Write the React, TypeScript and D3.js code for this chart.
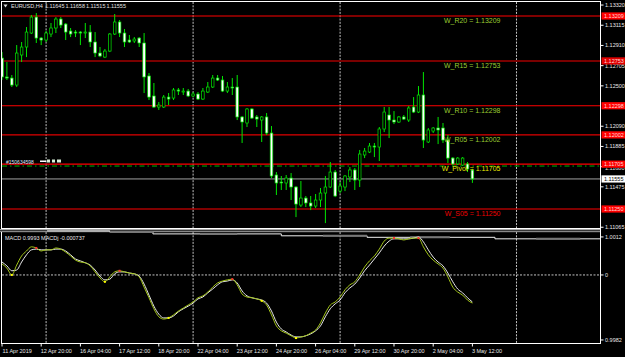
import React from "react";
import * as d3 from "d3";

// ---------- DATA ----------
const symbol = "EURUSD,H4";
const opens = [1.12782,1.12590,1.12579,1.12508,1.12813,1.12894,1.13036,1.13198,1.12985,1.12965,1.13026,1.13087,1.13178,1.13127,1.13056,1.13046,1.13046,1.13036,1.13046,1.12945,1.12833,1.12792,1.12853,1.13026,1.13148,1.13036,1.12965,1.12955,1.12985,1.12935,1.12600,1.12397,1.12285,1.12285,1.12386,1.12376,1.12458,1.12437,1.12447,1.12397,1.12417,1.12366,1.12437,1.12488,1.12579,1.12559,1.12447,1.12488,1.12488,1.12184,1.12123,1.12265,1.12184,1.12153,1.12184,1.12021,1.11595,1.11524,1.11514,1.11564,1.11473,1.11290,1.11361,1.11311,1.11280,1.11341,1.11412,1.11473,1.11625,1.11432,1.11473,1.11575,1.11646,1.11544,1.11798,1.11828,1.11889,1.11879,1.12062,1.12204,1.12153,1.12133,1.12184,1.12153,1.12285,1.12234,1.12407,1.11930,1.12041,1.12072,1.12072,1.11950,1.11767,1.11707,1.11696,1.11707,1.11645];
const highs = [1.12843,1.12742,1.12610,1.12914,1.12945,1.13097,1.13219,1.13239,1.12995,1.13056,1.13138,1.13198,1.13198,1.13138,1.13087,1.13066,1.13056,1.13138,1.13117,1.13046,1.12894,1.12874,1.13036,1.13229,1.13168,1.13077,1.13016,1.12995,1.12995,1.13036,1.12630,1.12529,1.12336,1.12407,1.12427,1.12478,1.12478,1.12478,1.12468,1.12437,1.12437,1.12478,1.12539,1.12610,1.12610,1.12600,1.12539,1.12579,1.12610,1.12194,1.12275,1.12275,1.12204,1.12194,1.12224,1.12092,1.11625,1.11585,1.11595,1.11615,1.11483,1.11534,1.11382,1.11382,1.11402,1.11463,1.11585,1.11727,1.11646,1.11524,1.11595,1.11676,1.11666,1.11849,1.11869,1.11920,1.11920,1.12082,1.12285,1.12285,1.12244,1.12194,1.12204,1.12295,1.12386,1.12498,1.12640,1.12072,1.12082,1.12184,1.12123,1.12001,1.11777,1.11777,1.11777,1.11727,1.11658];
const lows = [1.12559,1.12559,1.12488,1.12488,1.12742,1.12792,1.13026,1.12935,1.12914,1.12945,1.12995,1.13036,1.13087,1.12965,1.12995,1.12995,1.12914,1.12985,1.12894,1.12792,1.12792,1.12782,1.12843,1.13016,1.12995,1.12894,1.12935,1.12935,1.12894,1.12427,1.12356,1.12275,1.12255,1.12275,1.12305,1.12356,1.12407,1.12407,1.12386,1.12386,1.12356,1.12356,1.12427,1.12478,1.12549,1.12437,1.12427,1.12407,1.12153,1.11920,1.12082,1.12163,1.12082,1.11930,1.12001,1.11564,1.11392,1.11443,1.11443,1.11341,1.11168,1.11270,1.11270,1.11239,1.11260,1.11270,1.11107,1.11463,1.11371,1.11412,1.11432,1.11524,1.11443,1.11473,1.11767,1.11818,1.11777,1.11737,1.12031,1.11970,1.12112,1.12123,1.12153,1.12133,1.12224,1.12224,1.11869,1.11920,1.12021,1.11909,1.11920,1.11717,1.11696,1.11696,1.11686,1.11625,1.11515];
const closes = [1.12590,1.12579,1.12508,1.12833,1.12894,1.13046,1.13198,1.12985,1.12965,1.13036,1.13087,1.13178,1.13117,1.13046,1.13026,1.13036,1.13036,1.13046,1.12945,1.12833,1.12803,1.12853,1.13026,1.13148,1.13036,1.12945,1.12945,1.12975,1.12935,1.12590,1.12386,1.12285,1.12305,1.12386,1.12366,1.12458,1.12447,1.12447,1.12397,1.12417,1.12366,1.12447,1.12488,1.12579,1.12559,1.12447,1.12488,1.12478,1.12184,1.12133,1.12265,1.12173,1.12163,1.12184,1.12021,1.11585,1.11514,1.11514,1.11564,1.11473,1.11300,1.11361,1.11311,1.11280,1.11341,1.11412,1.11473,1.11625,1.11382,1.11483,1.11585,1.11646,1.11544,1.11808,1.11838,1.11889,1.11879,1.12062,1.12234,1.12153,1.12133,1.12184,1.12163,1.12275,1.12234,1.12407,1.11950,1.12052,1.12072,1.12052,1.11950,1.11767,1.11707,1.11767,1.11767,1.11656,1.11555];

const macdWhite = [0.00034,0.00024,0.00011,0.00013,0.00034,0.00053,0.00066,0.00068,0.00066,0.00066,0.00066,0.00068,0.00068,0.00063,0.00053,0.00042,0.00037,0.00032,0.00026,0.00013,-0.00003,-0.00013,-0.00011,0.00003,0.00008,0.00008,0.00005,0.00003,-0.00003,-0.00024,-0.00053,-0.00082,-0.00103,-0.00113,-0.00113,-0.00108,-0.00097,-0.00089,-0.00082,-0.00074,-0.00063,-0.00058,-0.00047,-0.00037,-0.00026,-0.00018,-0.00016,-0.00013,-0.00021,-0.00042,-0.00055,-0.00060,-0.00063,-0.00066,-0.00074,-0.00095,-0.00124,-0.00142,-0.00150,-0.00158,-0.00163,-0.00163,-0.00160,-0.00155,-0.00147,-0.00134,-0.00110,-0.00089,-0.00076,-0.00066,-0.00047,-0.00034,-0.00024,-0.00008,0.00011,0.00026,0.00042,0.00058,0.00076,0.00089,0.00095,0.00095,0.00095,0.00095,0.00097,0.00100,0.00087,0.00066,0.00047,0.00034,0.00024,0.00005,-0.00018,-0.00037,-0.00047,-0.00060,-0.00071];
const macdGreen = [0.00029,0.00018,0.00000,0.00026,0.00050,0.00063,0.00074,0.00071,0.00063,0.00066,0.00066,0.00071,0.00068,0.00060,0.00050,0.00039,0.00034,0.00032,0.00024,0.00008,-0.00008,-0.00018,-0.00005,0.00008,0.00011,0.00008,0.00005,0.00003,-0.00005,-0.00032,-0.00060,-0.00089,-0.00110,-0.00116,-0.00113,-0.00105,-0.00095,-0.00087,-0.00079,-0.00071,-0.00060,-0.00055,-0.00045,-0.00032,-0.00021,-0.00016,-0.00013,-0.00011,-0.00026,-0.00050,-0.00058,-0.00060,-0.00063,-0.00068,-0.00079,-0.00105,-0.00134,-0.00147,-0.00153,-0.00160,-0.00166,-0.00163,-0.00160,-0.00153,-0.00145,-0.00126,-0.00100,-0.00079,-0.00071,-0.00058,-0.00039,-0.00026,-0.00018,0.00000,0.00021,0.00037,0.00050,0.00068,0.00089,0.00097,0.00097,0.00095,0.00092,0.00095,0.00097,0.00097,0.00074,0.00053,0.00039,0.00029,0.00018,-0.00005,-0.00032,-0.00045,-0.00053,-0.00066,-0.00074];
const redDotBars = [7, 24, 47, 80, 85];
const yellowDotBars = [2, 21, 34, 53, 60];

const stepStarts = [9.2, 22, 30.8, 57, 74.5, 100.6, 122.2];
const stepValues = [0.00116, 0.00113, 0.00108, 0.00103, 0.00099, 0.00095, 0.00095];
const greyStarts = [22, 40.4, 65.5, 83.3, 109];
const greyEnds = [30.8, 48, 74.5, 91.4, 118];

const timeLabels = ["11 Apr 2019","12 Apr 20:00","16 Apr 04:00","17 Apr 12:00","18 Apr 20:00","22 Apr 04:00","23 Apr 12:00","24 Apr 20:00","26 Apr 04:00","29 Apr 12:00","30 Apr 20:00","2 May 04:00","3 May 12:00"];
const timeLabelBars = [0, 8, 16, 24, 32, 40, 48, 56, 64, 72, 80, 88, 96];
const gridBars = [9, 39, 69, 105];

const levelNames = ["W_R20", "W_R15", "W_R10", "W_R05", "W_Pivot", "W_S05"];
const levelValues = [1.13209, 1.12753, 1.12298, 1.12002, 1.11705, 1.11250];
// visible price-axis ticks (1.12295 and 1.11270 are hidden behind level boxes)
const priceTicks = [1.13320,1.13115,1.12910,1.12705,1.12500,1.12090,1.11885,1.11680,1.11475,1.11065];
const orderPrice = 1.11686;
const orderLabel = "#150634598";
const macdAxisValues = [0.00100, 0, -0.00171];
const macdAxisLabels = ["1.0012", "0", "0.9982"];
const macdTitle = "MACD 0.9993  MACDj -0.000737";

// ---------- STYLES ----------
const lineColors = ["#ff0000", "#7a0000", "#ff0000", "#e00000", "#ff0000", "#ff0000"];
const textColors = ["#9acd32", "#9acd32", "#9acd32", "#9acd32", "#e8e800", "#ee0000"];
const FONT = "'Liberation Sans', Arial, sans-serif";
const GREEN = "#00e600";

export default function App() {
  const x = d3.scaleLinear().domain([0, 122.245]).range([2, 601]);
  const yP = d3.scaleLinear().domain([1.11047, 1.13351]).range([229, 2]);
  const yM = d3.scaleLinear().domain([-0.00179, 0.00113]).range([343, 232]);
  const lineM = d3.line<number>().x((_, i) => x(i)).y((d) => yM(d)).curve(d3.curveMonotoneX);
  const stepLine = d3.line<number>().x((_, i) => x(stepStarts[i])).y((d) => yM(d)).curve(d3.curveStepAfter);
  const stepAt = (b: number) => {
    let v = stepValues[0];
    for (let k = 0; k < stepStarts.length; k++) if (b >= stepStarts[k]) v = stepValues[k];
    return v;
  };
  const last = closes.length - 1;
  const bid = closes[last];
  const headerVals = [opens[last], highs[last], lows[last], closes[last]].map((v) => v.toFixed(5));
  const headerX = [45, 65.5, 86, 106.5];

  return (
    <svg width={625} height={357} style={{ position: "absolute", left: 0, top: 0, display: "block" }} fontFamily={FONT}>
      <defs>
        <clipPath id="mainClip"><rect x={2} y={2} width={598.5} height={226.5} /></clipPath>
        <clipPath id="macdClip"><rect x={2} y={232} width={598.5} height={111.5} /></clipPath>
        <clipPath id="belowPivotBox"><rect x={601} y={yP(1.11705) + 3.6} width={24} height={10} /></clipPath>
      </defs>
      <rect x={0} y={0} width={625} height={357} fill="#000" />

      {/* grid */}
      {gridBars.map((b, i) => (
        <g key={"g" + i}>
          <line x1={x(b)} x2={x(b)} y1={2} y2={228.5} stroke="#d8d8d8" strokeDasharray="2,1.3" strokeWidth={0.9} />
          <line x1={x(b)} x2={x(b)} y1={232} y2={343.5} stroke="#d8d8d8" strokeDasharray="2,1.3" strokeWidth={0.9} />
        </g>
      ))}
      <line x1={2} x2={600.5} y1={yM(0)} y2={yM(0)} stroke="#d8d8d8" strokeDasharray="2,1.5" strokeWidth={0.9} />

      <g clipPath="url(#mainClip)">
        {levelValues.map((v, i) => (
          <line key={"l" + i} x1={2} x2={601} y1={yP(v)} y2={yP(v)} stroke={lineColors[i]} strokeWidth={i === 1 ? 2 : 1.2} />
        ))}
        <line x1={2} x2={601} y1={yP(orderPrice)} y2={yP(orderPrice)} stroke="#00b400" strokeWidth={1} strokeDasharray="5,3,1.5,3" />
        <line x1={2} x2={601} y1={yP(bid)} y2={yP(bid)} stroke="#a0a0a0" strokeWidth={1} />

        {opens.map((o, i) => {
          const c = closes[i];
          const cx = x(i);
          const bull = c > o;
          const top = yP(Math.max(o, c));
          const bot = yP(Math.min(o, c));
          return (
            <g key={"c" + i}>
              <line x1={cx} x2={cx} y1={yP(highs[i])} y2={yP(lows[i])} stroke={GREEN} strokeWidth={1} />
              <rect x={cx - 1.3} y={top} width={2.6} height={Math.max(bot - top, 0.6)} fill={bull ? "#000" : "#fff"} stroke={GREEN} strokeWidth={0.7} />
            </g>
          );
        })}

        {levelValues.map((v, i) => (
          <text key={"lt" + i} x={500.5} y={yP(v) + 7} fontSize={7} fill={textColors[i]} textAnchor="end">
            {levelNames[i] + " = " + v.toFixed(5)}
          </text>
        ))}
        <text x={6} y={163.5} fontSize={5} fill="#dfe8ff">{orderLabel}</text>
        <rect x={40} y={160.5} width={6} height={1.5} fill="#fff" />
        <rect x={47} y={159.5} width={3} height={3} fill="#d8f0d8" />
        <rect x={52} y={159.5} width={3} height={3} fill="#d8f0d8" />
        <rect x={57} y={159.5} width={4} height={3} fill="#d8f0d8" />
      </g>

      {/* header */}
      <path d="M3.5,4.5 L7.5,4.5 L5.5,7.5 Z" fill="#ddd" />
      <text x={11} y={8} fontSize={5.5} fill="#e0e0e0">{symbol}</text>
      {headerVals.map((t, i) => (
        <text key={"h" + i} x={headerX[i]} y={8} fontSize={5.5} fill="#e0e0e0">{t}</text>
      ))}

      {/* frames */}
      <rect x={1.5} y={1.5} width={599} height={227} fill="none" stroke="#fff" strokeWidth={1} />
      <rect x={0} y={229} width={601} height={1.2} fill="#a8a8a8" />
      <rect x={0} y={230.8} width={601} height={1.4} fill="#888" />
      <line x1={1.5} x2={1.5} y1={232} y2={343.5} stroke="#fff" />
      <line x1={600.5} x2={600.5} y1={229} y2={343.5} stroke="#fff" />
      <line x1={1} x2={601} y1={343.5} y2={343.5} stroke="#fff" />

      {/* price axis */}
      {priceTicks.map((v, i) => (
        <g key={"pt" + i}>
          <line x1={601} x2={603.5} y1={yP(v)} y2={yP(v)} stroke="#fff" />
          {Math.abs(v - 1.11680) < 1e-6 ? (
            <text x={605} y={yP(v) + 3.5} fontSize={5.5} fill="#e8e8e8" clipPath="url(#belowPivotBox)">{v.toFixed(5)}</text>
          ) : (
            <text x={605} y={yP(v) + 2} fontSize={5.5} fill="#e8e8e8">{v.toFixed(5)}</text>
          )}
        </g>
      ))}
      {levelValues.map((v, i) => (
        <g key={"pb" + i}>
          <rect x={601.5} y={yP(v) - 3.6} width={23.5} height={7.2} fill={i === 1 ? "#e00000" : "#ff0000"} />
          <text x={604} y={yP(v) + 2} fontSize={5.5} fill="#ffd8d8">{v.toFixed(5)}</text>
        </g>
      ))}
      <rect x={601.5} y={yP(bid) - 3.6} width={23.5} height={7.2} fill="#fff" />
      <text x={604} y={yP(bid) + 2} fontSize={5.5} fill="#000">{bid.toFixed(5)}</text>

      {/* MACD window */}
      <path d={stepLine(stepValues) || ""} fill="none" stroke="#f0f0f0" strokeWidth={1} />
      {greyStarts.map((s, i) => (
        <line key={"gs" + i} x1={x(s)} x2={x(greyEnds[i])} y1={yM(stepAt(s))} y2={yM(stepAt(s))} stroke="#777" strokeWidth={2} />
      ))}
      <g clipPath="url(#macdClip)">
        <path d={lineM(macdWhite) || ""} fill="none" stroke="#e8e8e8" strokeWidth={1} />
        <path d={lineM(macdGreen) || ""} fill="none" stroke="#a4c61a" strokeWidth={1} />
        {redDotBars.map((b, i) => (
          <rect key={"rd" + i} x={x(b) - 1} y={yM(macdGreen[b]) - 1} width={2} height={2} fill="#ff3030" />
        ))}
        {yellowDotBars.map((b, i) => (
          <rect key={"yd" + i} x={x(b) - 1} y={yM(macdGreen[b]) - 1} width={2} height={2} fill="#ffff00" />
        ))}
      </g>
      <text x={5} y={239.5} fontSize={5.5} fill="#e8e8e8">{macdTitle}</text>
      {macdAxisValues.map((v, i) => (
        <g key={"ma" + i}>
          <line x1={601} x2={603.5} y1={yM(v)} y2={yM(v)} stroke="#fff" />
          <text x={605} y={yM(v) + 2} fontSize={5.5} fill="#e8e8e8">{macdAxisLabels[i]}</text>
        </g>
      ))}

      {/* time axis */}
      {timeLabelBars.map((b, i) => (
        <g key={"t" + i}>
          <line x1={x(b)} x2={x(b)} y1={343.5} y2={346.5} stroke="#fff" />
          <text x={x(b) + (i === 0 ? 0.5 : -0.5)} y={352.5} fontSize={5.5} fill="#e8e8e8">{timeLabels[i]}</text>
        </g>
      ))}
    </svg>
  );
}
